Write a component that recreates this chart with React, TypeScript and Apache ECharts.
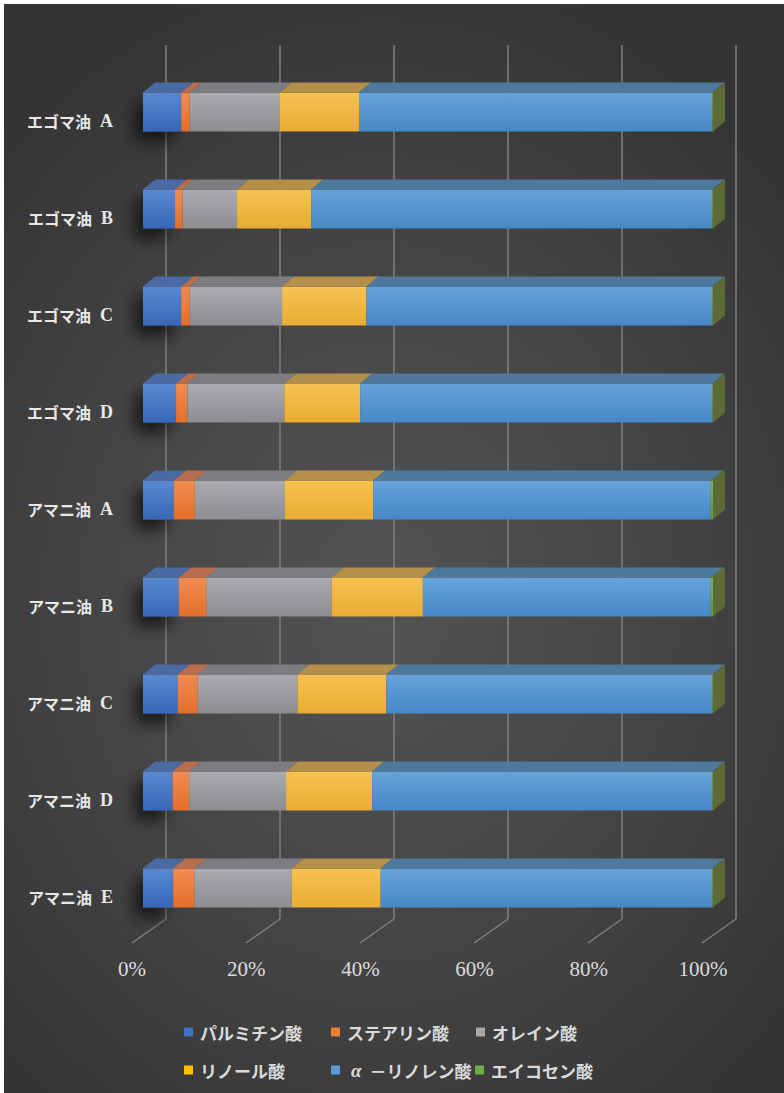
import React, { useEffect, useRef } from 'react';
import * as echarts from 'echarts';

const categories = ['エゴマ油 A', 'エゴマ油 B', 'エゴマ油 C', 'エゴマ油 D', 'アマニ油 A', 'アマニ油 B', 'アマニ油 C', 'アマニ油 D', 'アマニ油 E'];
const seriesNames = ['パルミチン酸', 'ステアリン酸', 'オレイン酸', 'リノール酸', 'α－リノレン酸', 'エイコセン酸'];
const palmitic = [6.7, 5.6, 6.7, 5.8, 5.4, 6.3, 6.1, 5.2, 5.3];
const stearic = [1.5, 1.3, 1.5, 2.0, 3.7, 4.8, 3.5, 2.9, 3.7];
const oleic = [15.8, 9.6, 16.2, 17.0, 15.8, 22.0, 17.5, 17.0, 17.1];
const linoleic = [13.9, 13.0, 14.8, 13.3, 15.5, 16.0, 15.6, 15.1, 15.6];
const alphaLinolenic = [62.0, 70.4, 60.7, 61.8, 59.2, 50.5, 57.2, 59.7, 58.2];
const eicosenoic = [0.1, 0.1, 0.1, 0.1, 0.4, 0.4, 0.1, 0.1, 0.1];
const xTicks = [0, 20, 40, 60, 80, 100];

const faceStyles = [
  { front: ['#5b88d1', '#3767b6'], top: '#4b69a2', flat: '#4472C4' },
  { front: ['#f28c52', '#e36f2a'], top: '#b66e4e', flat: '#ED7D31' },
  { front: ['#abacaf', '#8c8d90'], top: '#7c7d80', flat: '#A5A5A5' },
  { front: ['#f7c252', '#e8ad33'], top: '#b48f4a', flat: '#FFC000' },
  { front: ['#66a3da', '#4688c6'], top: '#4f789d', flat: '#5B9BD5' },
  { front: ['#79b351', '#5f9a3a'], top: '#5b7a46', flat: '#70AD47', side: '#5d6a38' },
];

const DX = 12;
const DY = 10;
const BAR_RATIO = 39 / 97;

const legendPos = [
  { left: 184, top: 1022 },
  { left: 331, top: 1022 },
  { left: 476, top: 1022 },
  { left: 184, top: 1060 },
  { left: 331, top: 1060 },
  { left: 475, top: 1060 },
];

export default function App() {
  const ref = useRef<HTMLDivElement>(null);
  useEffect(() => {
    const chart = echarts.init(ref.current!, null, { renderer: 'svg' });
    const seriesValues = [palmitic, stearic, oleic, linoleic, alphaLinolenic, eicosenoic];
    const totals = categories.map((_, c) => seriesValues.reduce((a, arr) => a + arr[c], 0));
    const cum = categories.map(() => 0);

    const barSeries = seriesValues.map((vals, i) => {
      const data = categories.map((_, c) => {
        const s = (cum[c] / totals[c]) * 100;
        cum[c] += vals[c];
        const e = (cum[c] / totals[c]) * 100;
        return [s, e, c];
      });
      const st = faceStyles[i];
      const isLast = i === seriesValues.length - 1;
      return {
        type: 'custom',
        name: seriesNames[i],
        xAxisIndex: 0,
        yAxisIndex: 0,
        z: 5,
        itemStyle: { color: st.flat },
        encode: { x: [0, 1], y: 2 },
        data,
        renderItem: (params: any, api: any) => {
          const s = api.value(0);
          const e = api.value(1);
          const c = api.value(2);
          const p0 = api.coord([s, c]);
          const p1 = api.coord([e, c]);
          const band = api.size([0, 1])[1];
          const h = band * BAR_RATIO;
          const top = p0[1] - h / 2;
          const x0 = p0[0];
          const x1 = p1[0];
          const children: any[] = [];
          const frontStyle: any = {
            fill: new echarts.graphic.LinearGradient(0, 0, 0, 1, [
              { offset: 0, color: st.front[0] },
              { offset: 1, color: st.front[1] },
            ]),
          };
          if (i === 0) {
            frontStyle.shadowBlur = 16;
            frontStyle.shadowColor = 'rgba(0,0,0,0.65)';
            frontStyle.shadowOffsetX = -8;
            frontStyle.shadowOffsetY = 10;
          }
          children.push({
            type: 'rect',
            shape: { x: x0, y: top, width: Math.max(x1 - x0, 0.5), height: h },
            style: frontStyle,
          });
          children.push({
            type: 'polygon',
            shape: { points: [[x0, top], [x0 + DX, top - DY], [x1 + DX, top - DY], [x1, top]] },
            style: { fill: st.top },
          });
          if (isLast) {
            children.push({
              type: 'polygon',
              shape: { points: [[x1, top], [x1 + DX, top - DY], [x1 + DX, top + h - DY], [x1, top + h]] },
              style: { fill: (st as any).side },
            });
          }
          return { type: 'group', children };
        },
      };
    });

    const floorSeries = {
      type: 'custom',
      xAxisIndex: 2,
      yAxisIndex: 2,
      z: 1,
      silent: true,
      data: xTicks.map((v) => [v, 0]),
      encode: { x: 0, y: 1 },
      renderItem: (params: any, api: any) => {
        const p = api.coord([api.value(0), 0]);
        return {
          type: 'line',
          shape: { x1: p[0], y1: p[1], x2: p[0] - 34, y2: p[1] + 24 },
          style: { stroke: '#7f7f7f', lineWidth: 1.5 },
        };
      },
    };

    const option: any = {
      animation: false,
      backgroundColor: 'transparent',
      grid: [
        { left: 143, width: 570, top: 63.5, height: 873 },
        { left: 143, width: 570, top: 72.5, height: 873 },
        { left: 166, width: 570, top: 45, height: 874 },
        { left: 132, width: 571, top: 500, height: 443 },
      ],
      xAxis: [
        { gridIndex: 0, type: 'value', min: 0, max: 100, show: false },
        { gridIndex: 1, type: 'value', min: 0, max: 100, show: false },
        {
          gridIndex: 2, type: 'value', min: 0, max: 100, interval: 20,
          axisLine: { show: false }, axisTick: { show: false }, axisLabel: { show: false },
          splitLine: { show: true, lineStyle: { color: '#7f7f7f', width: 1.5 } },
        },
        {
          gridIndex: 3, type: 'value', min: 0, max: 100, interval: 20,
          axisLine: { show: false }, axisTick: { show: false }, splitLine: { show: false },
          axisLabel: {
            margin: 15, formatter: '{value}%', color: '#dcdcdc', fontSize: 21,
            fontFamily: "'Liberation Serif', 'DejaVu Serif', serif",
          },
        },
      ],
      yAxis: [
        { gridIndex: 0, type: 'category', data: categories, inverse: true, show: false },
        {
          gridIndex: 1, type: 'category', data: categories, inverse: true,
          axisLine: { show: false }, axisTick: { show: false }, splitLine: { show: false },
          axisLabel: {
            margin: 30,
            formatter: (v: string) => {
              const parts = v.split(' ');
              return '{c|' + parts[0] + '}{l|' + parts[1] + '}';
            },
            rich: {
              c: { fontSize: 16, fontWeight: 'bold', color: '#e8e8e8', fontFamily: "'Noto Sans CJK JP', sans-serif" },
              l: { fontSize: 18, fontWeight: 'bold', color: '#e8e8e8', fontFamily: "'Liberation Serif', serif", padding: [0, 0, 0, 9] },
            },
          },
        },
        { gridIndex: 2, type: 'value', min: 0, max: 1, show: false },
        { gridIndex: 3, type: 'value', min: 0, max: 1, show: false },
      ],
      legend: seriesNames.map((n, i) => ({
        data: [n],
        left: legendPos[i].left,
        top: legendPos[i].top,
        padding: 0,
        icon: 'rect',
        itemWidth: 9,
        itemHeight: 9,
        selectedMode: false,
        formatter: (name: string) => (name.startsWith('α') ? '{g|α}{t|' + name.slice(1) + '}' : name),
        textStyle: {
          color: '#dadada', fontSize: 17, fontWeight: 'bold', lineHeight: 20,
          fontFamily: "'Noto Sans CJK JP', sans-serif", padding: [0, 0, 0, 2],
          rich: {
            g: { fontSize: 19, fontStyle: 'italic', fontFamily: "'Liberation Serif', serif", color: '#dadada', padding: [0, 8, 0, 4] },
            t: { fontSize: 17, fontWeight: 'bold', fontFamily: "'Noto Sans CJK JP', sans-serif", color: '#dadada' },
          },
        },
      })),
      series: [floorSeries, ...barSeries],
    };
    chart.setOption(option);
    return () => chart.dispose();
  }, []);

  return (
    <div style={{ position: 'fixed', left: 0, top: 0, width: 784, height: 1093, background: '#ffffff' }}>
      <div
        style={{
          position: 'absolute', left: 4, top: 4, width: 780, height: 1089,
          background: 'radial-gradient(ellipse 70% 60% at 48% 55%, #535353 0%, #474747 45%, #343434 100%)',
        }}
      />
      <div ref={ref} style={{ position: 'absolute', left: 0, top: 0, width: 784, height: 1093 }} />
    </div>
  );
}
